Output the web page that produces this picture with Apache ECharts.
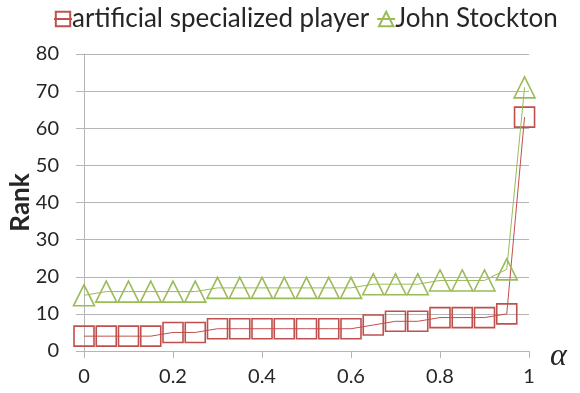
<!DOCTYPE html>
<html>
<head>
<meta charset="utf-8">
<script src="https://cdn.jsdelivr.net/npm/echarts@6/dist/echarts.min.js"></script>
<style>
  html, body { margin: 0; padding: 0; background: #fff; }
  #chart { width: 580px; height: 393px; }
</style>
</head>
<body>
<div id="chart"></div>
<script>
// alpha values along the horizontal axis
const alphas = [0, 0.05, 0.1, 0.15, 0.2, 0.25, 0.3, 0.35, 0.4, 0.45, 0.5,
                0.55, 0.6, 0.65, 0.7, 0.75, 0.8, 0.85, 0.9, 0.95, 0.99];
// rank of each player for every alpha
const artificialRank = [4, 4, 4, 4, 5, 5, 6, 6, 6, 6, 6, 6, 6, 7, 8, 8, 9, 9, 9, 10, 63];
const stocktonRank   = [15, 16, 16, 16, 16, 16, 17, 17, 17, 17, 17, 17, 17, 18, 18, 18, 19, 19, 19, 22, 71];
const seriesNames = ['artificial specialized player', 'John Stockton'];
const yTicks = { min: 0, max: 80, step: 10 };
const xTicks = { min: 0, max: 1, step: 0.2 };

const RED = '#c0504d';
const GREEN = '#9bbb59';
const FONT = 'Lato, "Open Sans", sans-serif';
const TEXT = '#262626';

const pairs = (ys) => alphas.map((a, i) => [a, ys[i]]);

const chart = echarts.init(document.getElementById('chart'), null, { renderer: 'canvas' });
chart.setOption({
  animation: false,
  backgroundColor: '#fff',
  legend: {
    top: 1,
    left: 48,
    itemWidth: 18,
    itemHeight: 18,
    itemGap: 7,
    textStyle: { fontFamily: FONT, fontSize: 26, color: TEXT, padding: [0, 0, 0, -5] },
    data: seriesNames
  },
  grid: { left: 82, right: 51, top: 54, bottom: 42, containLabel: false },
  xAxis: {
    type: 'value',
    min: xTicks.min, max: xTicks.max, interval: xTicks.step,
    name: 'α',
    nameLocation: 'end',
    nameGap: 21,
    nameTextStyle: {
      fontFamily: '"Liberation Serif", "DejaVu Serif", serif',
      fontStyle: 'italic', fontSize: 32, color: TEXT,
      verticalAlign: 'top',
      lineHeight: 12
    },
    axisLine: { show: true, lineStyle: { color: '#b5b5b5', width: 1 } },
    axisTick: { show: true, length: 7, lineStyle: { color: '#b5b5b5' } },
    axisLabel: { fontFamily: FONT, fontSize: 20, color: TEXT, margin: 16,
                 formatter: (v) => String(+v.toFixed(1)) },
    splitLine: { show: false }
  },
  yAxis: {
    type: 'value',
    min: yTicks.min, max: yTicks.max, interval: yTicks.step,
    name: 'Rank',
    nameLocation: 'middle',
    nameGap: 50,
    nameMoveOverlap: false,
    nameTextStyle: { fontFamily: FONT, fontSize: 26, fontWeight: 'bold', color: TEXT },
    axisLine: { show: true, lineStyle: { color: '#b5b5b5', width: 1 } },
    axisTick: { show: true, length: 8, lineStyle: { color: '#b5b5b5' } },
    axisLabel: { fontFamily: FONT, fontSize: 20, color: TEXT, margin: 25 },
    splitLine: { show: true, lineStyle: { color: '#b5b5b5', width: 1 } }
  },
  series: [
    {
      name: seriesNames[0],
      type: 'line',
      data: pairs(artificialRank),
      symbol: 'rect',
      symbolSize: 20,
      showAllSymbol: true,
      lineStyle: { color: RED, width: 1 },
      itemStyle: { color: 'rgba(255,255,255,0)', borderColor: RED, borderWidth: 1.6 },
      z: 2
    },
    {
      name: seriesNames[1],
      type: 'line',
      data: pairs(stocktonRank),
      symbol: 'triangle',
      symbolSize: 21,
      showAllSymbol: true,
      lineStyle: { color: GREEN, width: 1 },
      itemStyle: { color: 'rgba(255,255,255,0)', borderColor: GREEN, borderWidth: 1.6 },
      z: 3
    }
  ]
});
</script>
</body>
</html>
